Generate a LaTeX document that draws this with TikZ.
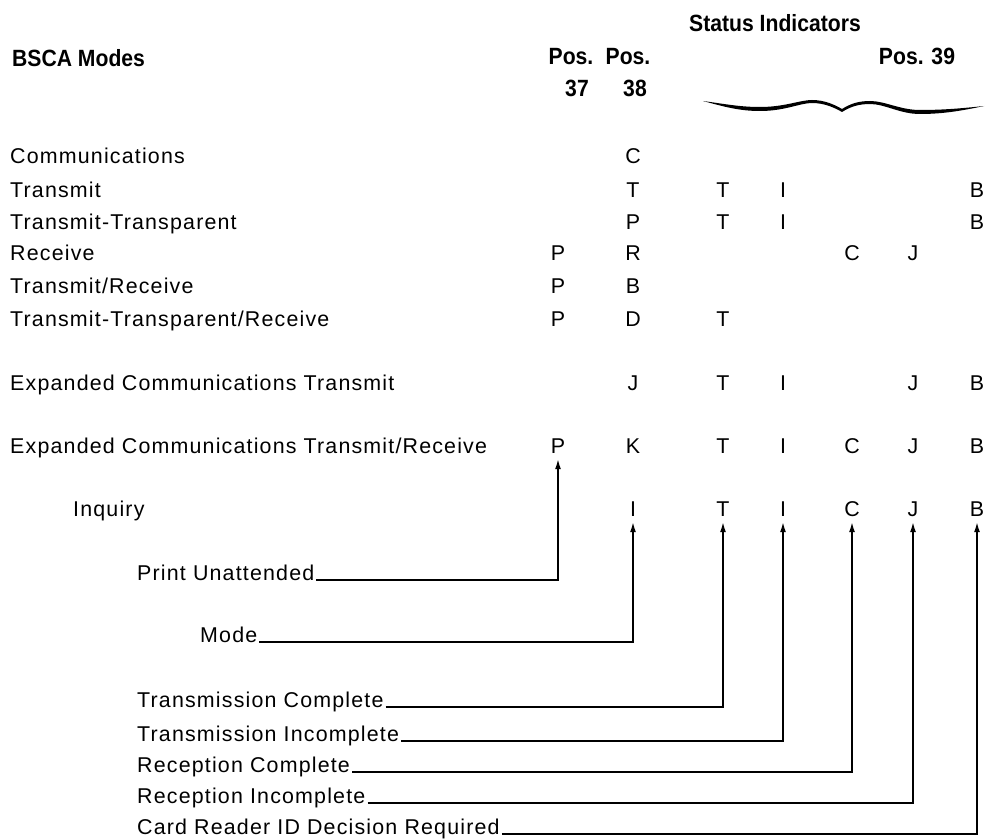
\documentclass[tikz,border=0pt]{standalone}
\usepackage{fontspec}
\setmainfont{Liberation Sans}[LetterSpace=5.5]
\newfontfamily\hdfont{Liberation Sans}[FakeStretch=0.9]
\usepackage{tikz}
\usetikzlibrary{arrows.meta,positioning,calc}

\begin{document}
\begin{tikzpicture}[x=1pt,y=-1pt,
  every node/.style={inner sep=0pt,anchor=base,font=\fontsize{21.4}{25}\selectfont},
  hdr/.style={font=\hdfont\bfseries\fontsize{23.5}{28}\selectfont},
  ltr/.style={text depth=0pt,inner ysep=6pt},
  lead/.style={line width=1.4pt,-{Latex[length=10pt,width=6pt]}}]
  \useasboundingbox (0,0) rectangle (985,840);
  % headings
  \node[hdr] (stat) at (775,32) {Status Indicators};
  \node[hdr,anchor=base west] (bsca) at (12,67) {BSCA Modes};
  \node[hdr] (pos37) at (571,65) {Pos.};
  \node[hdr] (pos38) at (628,65) {Pos.};
  \node[hdr] (num37) at (577,97) {37};
  \node[hdr] (num38) at (635,97) {38};
  \node[hdr] (pos39) at (917,65) {Pos. 39};
  % brace under Pos. 39
  \fill (703,101) .. controls (725,107) and (740,111) .. (760,111)
    .. controls (785,111) and (800,103) .. (812,103)
    .. controls (825,103) and (835,108) .. (842,112)
    .. controls (850,107) and (858,104) .. (870,104)
    .. controls (885,104) and (900,114) .. (920,114)
    .. controls (945,114) and (965,110) .. (984,106)
    .. controls (965,108) and (945,110) .. (920,110)
    .. controls (900,110) and (885,101) .. (870,101)
    .. controls (858,101) and (850,104) .. (842,109)
    .. controls (835,105) and (825,100) .. (812,100)
    .. controls (800,100) and (785,107) .. (760,107)
    .. controls (740,107) and (725,104) .. (703,101) -- cycle;
  % modes
  \node[anchor=base west] (comm) at (10,164) {Communications};
  \node[anchor=base west] (tx) at (10,197) {Transmit};
  \node[anchor=base west] (txt) at (10,229) {Transmit-Transparent};
  \node[anchor=base west] (rx) at (10,260) {Receive};
  \node[anchor=base west] (txrx) at (10,293) {Transmit/Receive};
  \node[anchor=base west] (txtrx) at (10,326) {Transmit-Transparent/Receive};
  \node[anchor=base west] (ectx) at (10,390) {Expanded Communications Transmit};
  \node[anchor=base west] (ectxrx) at (10,453) {Expanded Communications Transmit/Receive};
  \node[anchor=base west] (inq) at (73,516) {Inquiry};
  % indicator letters
  \node[ltr] (c1) at (633,164) {C};
  \node[ltr] (c2) at (633,197) {T};
  \node[ltr] (t2) at (723,197) {T};
  \node[ltr] (i2) at (783,197) {I};
  \node[ltr] (b2) at (977,197) {B};
  \node[ltr] (c3) at (633,229) {P};
  \node[ltr] (t3) at (723,229) {T};
  \node[ltr] (i3) at (783,229) {I};
  \node[ltr] (b3) at (977,229) {B};
  \node[ltr] (p4) at (558,260) {P};
  \node[ltr] (c4) at (633,260) {R};
  \node[ltr] (rc4) at (852,260) {C};
  \node[ltr] (j4) at (913,260) {J};
  \node[ltr] (p5) at (558,293) {P};
  \node[ltr] (c5) at (633,293) {B};
  \node[ltr] (p6) at (558,326) {P};
  \node[ltr] (c6) at (633,326) {D};
  \node[ltr] (t6) at (723,326) {T};
  \node[ltr] (c7) at (633,390) {J};
  \node[ltr] (t7) at (723,390) {T};
  \node[ltr] (i7) at (783,390) {I};
  \node[ltr] (j7) at (913,390) {J};
  \node[ltr] (b7) at (977,390) {B};
  \node[ltr] (p8) at (558,453) {P};
  \node[ltr] (c8) at (633,453) {K};
  \node[ltr] (t8) at (723,453) {T};
  \node[ltr] (i8) at (783,453) {I};
  \node[ltr] (rc8) at (852,453) {C};
  \node[ltr] (j8) at (913,453) {J};
  \node[ltr] (b8) at (977,453) {B};
  \node[ltr] (c9) at (633,516) {I};
  \node[ltr] (t9) at (723,516) {T};
  \node[ltr] (i9) at (783,516) {I};
  \node[ltr] (rc9) at (852,516) {C};
  \node[ltr] (j9) at (913,516) {J};
  \node[ltr] (b9) at (977,516) {B};
  % legend
  \node[anchor=base west] (pu) at (137,580) {Print Unattended};
  \node[anchor=base west] (mode) at (200,642) {Mode};
  \node[anchor=base west] (tc) at (137,707) {Transmission Complete};
  \node[anchor=base west] (ti) at (137,741) {Transmission Incomplete};
  \node[anchor=base west] (rcc) at (137,772) {Reception Complete};
  \node[anchor=base west] (ri) at (137,803) {Reception Incomplete};
  \node[anchor=base west] (cr) at (137,834) {Card Reader ID Decision Required};
  \draw[lead] ([xshift=2pt]pu.base east) -| (p8.south);
  \draw[lead] ([xshift=2pt]mode.base east) -| (c9.south);
  \draw[lead] ([xshift=2pt]tc.base east) -| (t9.south);
  \draw[lead] ([xshift=2pt]ti.base east) -| (i9.south);
  \draw[lead] ([xshift=2pt]rcc.base east) -| (rc9.south);
  \draw[lead] ([xshift=2pt]ri.base east) -| (j9.south);
  \draw[lead] ([xshift=2pt]cr.base east) -| (b9.south);
\end{tikzpicture}
\end{document}
